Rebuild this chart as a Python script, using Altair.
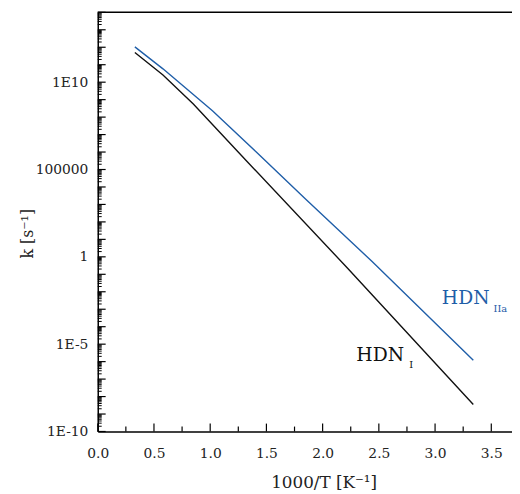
import altair as alt
import pandas as pd
import math

# ---- data ----
x_I = [0.33, 0.58, 0.85, 1.33, 2.22, 3.34]
k_I = [5.0e11, 2.6e10, 5.6e8, 2.8e5, 0.23, 3.5e-9]

x_IIa = [0.33, 0.58, 1.02, 1.41, 1.85, 2.44, 3.34]
k_IIa = [1.05e12, 5.8e10, 2.3e8, 1.0e6, 2.0e3, 0.54, 1.2e-6]

x_major = [0.0, 0.5, 1.0, 1.5, 2.0, 2.5, 3.0, 3.5]
x_minor = [0.25, 0.75, 1.25, 1.75, 2.25, 2.75, 3.25]
y_label_vals = [1e-10, 1e-5, 1, 1e5, 1e10]
y_label_text = ["1E-10", "1E-5", "1", "100000", "1E10"]
decades = list(range(-10, 15))
y_decade_ticks = [10.0 ** d for d in decades]
y_minor_ticks = [m * 10.0 ** d for d in decades[:-1] for m in range(2, 10)]

lab_text = ["HDN", "IIa", "HDN", "I"]
lab_x = [3.06, 3.52, 2.30, 2.77]
lab_y = [10 ** -2.71, 10 ** -3.16, 10 ** -5.99, 10 ** -6.38]
lab_color = ["#1f5ea8", "#1f5ea8", "#111111", "#111111"]
lab_size = [19, 10, 19, 10]

W, H = 420, 425
FONT = "DejaVu Serif"
BLUE = "#1f5ea8"

xs = alt.Scale(domain=[0, W / 114.0], nice=False, zero=False)
ys = alt.Scale(type="log", domain=[1e-10, 1e14], nice=False)

df = pd.DataFrame(
    {"x": x_I + x_IIa,
     "k": k_I + k_IIa,
     "s": ["HDN_I"] * len(x_I) + ["HDN_IIa"] * len(x_IIa)}
)

expr = "''"
for v, t in zip(y_label_vals, y_label_text):
    d = int(round(math.log10(v)))
    expr = f"(round(log(datum.value)/LN10)=={d}) ? '{t}' : ({expr})"

lines = alt.Chart(df).mark_line(strokeWidth=1.4, clip=True).encode(
    x=alt.X("x:Q", scale=xs,
            axis=alt.Axis(values=x_major, format=".1f", ticks=False, grid=False,
                          labelFlush=False,
                          domainColor="black", domainWidth=1.5,
                          labelFont=FONT, labelFontSize=14, labelColor="#222",
                          labelPadding=15,
                          title="1000/T [K⁻¹]", titleFont=FONT, titleFontSize=17,
                          titleFontWeight="normal", titleColor="#222",
                          titleX=229, titleY=57, titleBaseline="alphabetic")),
    y=alt.Y("k:Q", scale=ys,
            axis=alt.Axis(values=y_label_vals, labelExpr=expr, ticks=False, grid=False,
                          labelFlush=False,
                          domainColor="black", domainWidth=1.5,
                          labelFont=FONT, labelFontSize=14, labelColor="#222",
                          labelPadding=10,
                          title="k [s⁻¹]", titleFont=FONT, titleFontSize=16,
                          titleFontWeight="normal", titleColor="#222",
                          titleX=-66, titleY=224, titleBaseline="alphabetic")),
    color=alt.Color("s:N", scale=alt.Scale(domain=["HDN_I", "HDN_IIa"],
                                           range=["#111111", BLUE]), legend=None),
)

xmaj = alt.Chart(pd.DataFrame({"x": x_major})).mark_rule(color="black", strokeWidth=1.2).encode(
    x=alt.X("x:Q", scale=xs), y=alt.value(H), y2=alt.value(H - 8))
xmin = alt.Chart(pd.DataFrame({"x": x_minor})).mark_rule(color="black", strokeWidth=1.2).encode(
    x=alt.X("x:Q", scale=xs), y=alt.value(H), y2=alt.value(H - 5))
ymaj = alt.Chart(pd.DataFrame({"k": y_decade_ticks})).mark_rule(color="black", strokeWidth=1.2).encode(
    y=alt.Y("k:Q", scale=ys), x=alt.value(0), x2=alt.value(8))
ymin = alt.Chart(pd.DataFrame({"k": y_minor_ticks})).mark_rule(color="black", strokeWidth=1).encode(
    y=alt.Y("k:Q", scale=ys), x=alt.value(0), x2=alt.value(4))
top = alt.Chart(pd.DataFrame({"a": [0]})).mark_rule(color="black", strokeWidth=1.5).encode(
    x=alt.value(0), x2=alt.value(W), y=alt.value(0))

labels = alt.Chart(pd.DataFrame({"x": lab_x, "k": lab_y, "t": lab_text,
                                 "c": lab_color, "sz": lab_size})).mark_text(
    font=FONT, align="left", baseline="alphabetic").encode(
    x=alt.X("x:Q", scale=xs), y=alt.Y("k:Q", scale=ys),
    text="t:N", color=alt.Color("c:N", scale=None),
    size=alt.Size("sz:Q", scale=None))

chart = alt.layer(lines, xmaj, xmin, ymaj, ymin, top, labels).properties(
    width=W, height=H,
    autosize=alt.AutoSizeParams(type="none"),
    padding={"left": 91, "top": 1, "right": 0, "bottom": 60},
    background="white",
).configure_view(strokeWidth=0)

chart.save("out.html", embed_options={"renderer": "svg", "actions": False})
